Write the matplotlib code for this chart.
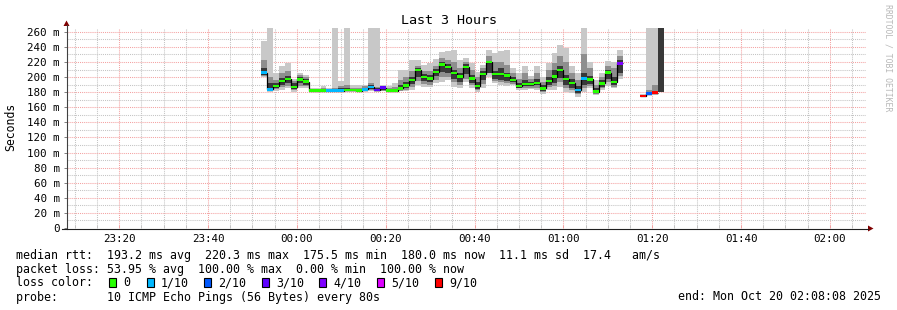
import numpy as np
import pandas as pd
import matplotlib
matplotlib.use("Agg")
import matplotlib.pyplot as plt
import matplotlib.dates as mdates
from matplotlib.patches import Rectangle, Polygon
from matplotlib.lines import Line2D

plt.rcParams['font.family'] = ['DejaVu Sans Mono', 'DejaVu Sans']

nan = np.nan
# one value per 80 s step, starting 23:52:00
median = [205.8, 183.7, 188, 195, 197.8, 187, 197, 194, 182, 182,
          182, 182, 182, 182, 183, 182.8, 182, 183.7, 187.2, 182.8,
          186, 182, 182, 185, 189, 196, 209, 200, 198, 207,
          216.8, 213.7, 205, 200.5, 213.7, 198, 188, 204, 220, 204,
          204, 202, 196, 188, 191, 191, 192.5, 185, 195, 200.5,
          209, 197.7, 192.5, 182.8, 198, 197, 180.6, 191.7, 205.8, 193.4,
          218, nan, nan, nan, 175.2, 178.4, 179.5, nan]
loss = [1, 1, 0, 0, 0, 0, 0, 0, 0, 0,
        0, 1, 1, 1, 0, 0, 0, 1, 1, 3,
        3, 0, 0, 0, 0, 0, 0, 0, 0, 0,
        0, 0, 0, 0, 0, 0, 0, 0, 0, 0,
        0, 0, 0, 0, 0, 0, 0, 0, 0, 0,
        0, 0, 0, 1, 1, 0, 0, 0, 0, 0,
        4, 10, 10, 10, 9, 2, 9, 10]
rtt_min = [200, 180, 181, 183, 185, 180, 185, 185, 180, 180,
           180, 180, 180, 180, 180, 180, 180, 180, 181, 180,
           181, 180, 180, 181, 181, 183, 189, 187, 187, 192,
           194, 196, 187, 185, 194, 185, 180, 186, 200, 192,
           189, 188, 189, 183, 183, 184, 183, 177.5, 183, 183,
           187, 180, 178.4, 174, 180, 185, 176, 183, 188, 185,
           197, nan, nan, nan, 173, 175, 176, 180]
rtt_max = [248, 265, 205, 214, 219, 198, 205, 203, 186, 186,
           188, 185, 265, 195, 265, 190, 190, 190, 265, 265,
           190, 188, 192, 209, 210, 223, 222, 216, 218, 224,
           233, 235, 236, 222, 225, 218, 207, 216, 236, 232,
           235, 236, 211.5, 205, 214.6, 202, 214, 200, 219, 232,
           242, 238, 214, 205, 265, 220, 196, 205, 221.6, 220,
           236, nan, nan, nan, 177, 265, 265, 265]
q_lo = [202, 181, 184, 187, 188, 183, 188, 188, 180.5, 180.5,
        180.5, 180.5, 181, 181, 181, 181, 181, 181.5, 183, 181,
        182, 181, 181, 182, 183, 187, 195, 191, 190, 196,
        200, 200, 193, 190, 198, 189, 183, 191, 205, 195,
        194, 192, 191, 185, 186, 186, 186, 180, 187, 188,
        193, 186, 183, 177, 186, 188, 177.5, 185, 193, 187,
        202, nan, nan, nan, 173.5, 176, 177, 180]
q_hi = [222, 200, 196, 205, 208, 195, 203, 200, 184, 184,
        185, 184, 186, 188, 190, 186, 186, 188, 192, 187,
        188, 185, 187, 196, 200, 208, 215, 208, 208, 215,
        225, 222, 220, 212, 220, 210, 200, 212, 228, 220,
        220, 216, 206, 198, 205, 198, 206, 194, 210, 218,
        228, 220, 205, 196, 230, 212, 190, 200, 215, 212,
        228, nan, nan, nan, 176.5, 183, 190, 265]
core_lo = [203, 182, 186, 190, 192, 184, 192, 190, 181, 181,
           181, 181, 181, 181, 181, 181.5, 181, 182, 184, 181.5,
           183, 181, 181, 183, 185, 191, 200, 195, 194, 201,
           207, 206, 198, 194, 204, 192, 184, 196, 205, 198,
           196, 195, 193, 186, 188, 188, 189, 182, 190, 192,
           199, 190, 186, 179, 190, 191, 178.5, 187, 197, 189,
           205, nan, nan, nan, 174, 177, 178, 180]
core_hi = [212, 192, 192, 199, 202, 192, 200, 197, 183, 183,
           183, 183, 184, 185, 186, 184.5, 184, 186, 189, 185,
           187.5, 184, 184, 189, 193, 200, 212, 204, 203, 211,
           220, 217, 209, 205, 217, 203, 193, 208, 221, 208,
           212, 206, 200, 192, 196, 194, 197, 189, 200, 210,
           214, 203, 197, 188, 205, 202, 185, 196, 210, 200,
           222, nan, nan, nan, 176, 180, 182, 265]

loss_colors = {0: '#26ff00', 1: '#00b8ff', 2: '#0059ff', 3: '#5e00ff',
               4: '#7e00ff', 5: '#dd00ff', 9: '#ff0000', 10: 'none'}
legend_loss = ['0', '1/10', '2/10', '3/10', '4/10', '5/10', '9/10']
legend_keys = [0, 1, 2, 3, 4, 5, 9]

W, H = 897, 310


def px(x, y):
    return x / W, 1 - y / H


t = pd.date_range("2025-10-19 23:52:00", periods=len(median), freq="80s")
x = mdates.date2num(t)
w = 80 / 86400
med = np.array(median, float)
lo, hi = np.array(rtt_min, float), np.array(rtt_max, float)
qlo, qhi = np.array(q_lo, float), np.array(q_hi, float)
clo, chi = np.array(core_lo, float), np.array(core_hi, float)

fig = plt.figure(figsize=(W / 100, H / 100), dpi=100)
fig.patch.set_facecolor('white')
ax = fig.add_axes([66.5 / W, 1 - 228 / H, (866 - 66.5) / W, 200 / H])

m = ~np.isnan(lo)
ax.bar(x[m], hi[m] - lo[m], bottom=lo[m], width=w, align='edge', color='#c8c8c8', lw=0, zorder=2)
ax.bar(x[m], qhi[m] - qlo[m], bottom=qlo[m], width=w, align='edge', color='#8e8e8e', lw=0, zorder=3)
ax.bar(x[m], chi[m] - clo[m], bottom=clo[m], width=w, align='edge', color='#383838', lw=0, zorder=4)

edges = np.append(x, x[-1] + w)
ax.stairs(med, edges, baseline=None, color='black', lw=0.9, zorder=5)
mm = ~np.isnan(med)
cols = [loss_colors[l] for l in np.array(loss)[mm]]
ax.bar(x[mm], 3.2, bottom=med[mm] - 1.6, width=w, align='edge', color=cols, lw=0, zorder=6)

t0 = mdates.date2num(pd.Timestamp("2025-10-19 23:08:08"))
t1 = mdates.date2num(pd.Timestamp("2025-10-20 02:08:08"))
ax.set_xlim(t0, t1)
ax.set_ylim(0, 265)

ax.set_yticks(np.arange(0, 261, 20))
ax.set_yticks(np.arange(0, 265, 10), minor=True)
ax.set_yticklabels(['0'] + [f'{v} m' for v in range(20, 261, 20)])
ax.xaxis.set_major_locator(mdates.MinuteLocator(byminute=[0, 20, 40]))
ax.xaxis.set_minor_locator(mdates.MinuteLocator(byminute=range(0, 60, 5)))
ax.xaxis.set_major_formatter(mdates.DateFormatter('%H:%M'))

ax.grid(which='minor', color='#c4c4c4', lw=0.75, ls=(0, (1, 1)), zorder=1)
ax.grid(which='major', color='#f4a2a2', lw=0.75, ls=(0, (1, 1)), zorder=1)
ax.set_axisbelow(True)

ax.tick_params(axis='y', which='major', length=2.5, width=0.7, color='#808080', pad=2.5, labelsize=7.8)
ax.tick_params(axis='y', which='minor', length=0)
ax.tick_params(axis='x', which='major', direction='in', length=2.5, width=0.7, color='#f4a2a2', pad=4.5, labelsize=7.8)
ax.tick_params(axis='x', which='minor', direction='in', length=2, width=0.7, color='#c4c4c4')
for s in ax.spines.values():
    s.set_visible(False)

# axis lines with arrows
fig.add_artist(Line2D([px(66.5, 0)[0]] * 2, [px(0, 229)[1], px(0, 25)[1]], color='#404040', lw=0.8))
fig.add_artist(Line2D([px(62, 0)[0], px(868, 0)[0]], [px(0, 228.5)[1]] * 2, color='#202020', lw=0.8))
fig.add_artist(Polygon([px(63.5, 26), px(69.5, 26), px(66.5, 20.5)], closed=True, color='#800000', lw=0))
fig.add_artist(Polygon([px(868, 225.5), px(868, 231.5), px(873.5, 228.5)], closed=True, color='#800000', lw=0))

fig.text(*px(448.5, 24), 'Last 3 Hours', ha='center', va='baseline', fontsize=9.6)
fig.text(*px(11, 127), 'Seconds', rotation=90, ha='center', va='center', fontsize=8.3)
fig.text(*px(887.5, 4), 'RRDTOOL / TOBI OETIKER', rotation=270, ha='center', va='top',
         fontsize=5.9, color='#b8b8b8')

fs = 8.4
fig.text(*px(16, 258.5), 'median rtt:  193.2 ms avg  220.3 ms max  175.5 ms min  180.0 ms now  11.1 ms sd  17.4   am/s',
         va='baseline', fontsize=fs)
fig.text(*px(16, 272.5), 'packet loss: 53.95 % avg  100.00 % max  0.00 % min  100.00 % now',
         va='baseline', fontsize=fs)
fig.text(*px(16, 286.5), 'loss color:', va='baseline', fontsize=fs)
box_x = [109, 146.7, 204, 261.7, 319.3, 376.7, 435]
for bx, key, lab in zip(box_x, legend_keys, legend_loss):
    x0, y0 = px(bx, 287.3)
    fig.add_artist(Rectangle((x0, y0), 7 / W, 9 / H, facecolor=loss_colors[key],
                             edgecolor='black', lw=0.8))
    fig.text(*px(bx + 14.3, 286.5), lab, va='baseline', fontsize=fs)
fig.text(*px(16, 300.5), 'probe:       10 ICMP Echo Pings (56 Bytes) every 80s', va='baseline', fontsize=fs)
fig.text(*px(880.5, 300.5), 'end: Mon Oct 20 02:08:08 2025', ha='right', va='baseline', fontsize=fs)

fig.savefig('out.png', dpi=100, facecolor='white')
